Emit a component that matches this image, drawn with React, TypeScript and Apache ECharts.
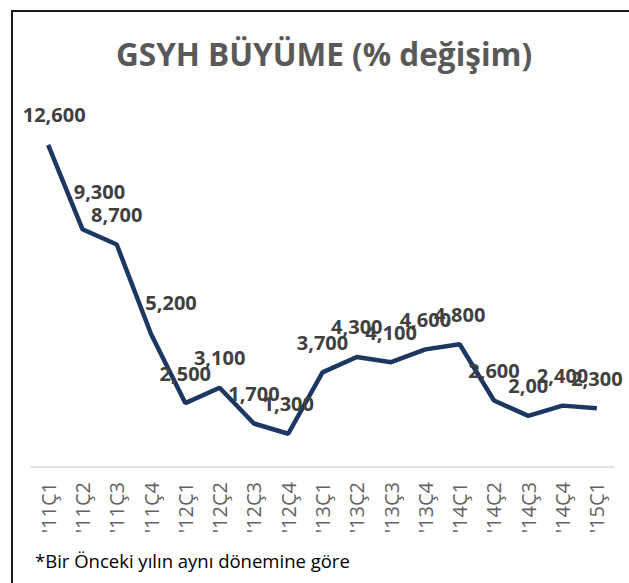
import React, { useEffect, useRef } from "react";
import * as echarts from "echarts";

const categories = ["'11Ç1", "'11Ç2", "'11Ç3", "'11Ç4", "'12Ç1", "'12Ç2", "'12Ç3", "'12Ç4", "'13Ç1", "'13Ç2", "'13Ç3", "'13Ç4", "'14Ç1", "'14Ç2", "'14Ç3", "'14Ç4", "'15Ç1"];
const growth = [12.6, 9.3, 8.7, 5.2, 2.5, 3.1, 1.7, 1.3, 3.7, 4.3, 4.1, 4.6, 4.8, 2.6, 2.0, 2.4, 2.3];
const valueLabels = ["12,600", "9,300", "8,700", "5,200", "2,500", "3,100", "1,700", "1,300", "3,700", "4,300", "4,100", "4,600", "4,800", "2,600", "2,00", "2,400", "2,300"];
const titleText = "GSYH BÜYÜME (% değişim)";
const footnoteText = "*Bir Önceki yılın aynı dönemine göre";

export default function App() {
  const ref = useRef<HTMLDivElement>(null);
  useEffect(() => {
    if (!ref.current) return;
    const chart = echarts.init(ref.current, null, { renderer: "svg" });
    const offsets: Record<number, [number, number]> = {
      0: [6, 0],
      1: [17, -8],
      3: [20, -1],
    };
    const data = growth.map((v, i) => ({
      value: v,
      label: {
        formatter: valueLabels[i],
        offset: offsets[i] || [0, 0],
      },
    }));
    chart.setOption({
      animation: false,
      backgroundColor: "#ffffff",
      title: {
        text: titleText,
        left: 111,
        top: 32,
        textStyle: {
          fontFamily: "Open Sans",
          fontWeight: "bold",
          fontSize: 31.5,
          color: "#595959",
        },
      },
      grid: { left: 31, right: 15, top: 109, bottom: 116, containLabel: false },
      xAxis: {
        type: "category",
        data: categories,
        boundaryGap: true,
        axisLine: { lineStyle: { color: "#d9d9d9", width: 1.5 } },
        axisTick: { show: false },
        axisLabel: {
          rotate: 90,
          interval: 0,
          margin: 15,
          fontFamily: "Open Sans",
          fontSize: 20,
          color: "#636363",
        },
      },
      yAxis: {
        type: "value",
        min: 0,
        max: 14,
        show: false,
        splitLine: { show: false },
      },
      series: [
        {
          type: "line",
          data,
          symbol: "circle",
          symbolSize: 0.1,
          showSymbol: true,
          lineStyle: { color: "#1c3762", width: 4.5 },
          itemStyle: { color: "#1c3762" },
          label: {
            show: true,
            position: "top",
            distance: 20,
            fontFamily: "Open Sans",
            fontWeight: "bold",
            fontSize: 20,
            color: "#404040",
          },
        },
      ],
      graphic: [
        {
          type: "line",
          shape: { x1: 11, y1: 11, x2: 629, y2: 11 },
          style: { stroke: "#1a1a1a", lineWidth: 2 },
        },
        {
          type: "line",
          shape: { x1: 12, y1: 10, x2: 12, y2: 583 },
          style: { stroke: "#1a1a1a", lineWidth: 2 },
        },
        {
          type: "text",
          left: 35,
          top: 551,
          style: {
            text: footnoteText,
            fontFamily: "Open Sans",
            fontSize: 18.5,
            fill: "#000000",
          },
        },
      ],
    });
    return () => chart.dispose();
  }, []);
  return (
    <div
      ref={ref}
      style={{ position: "fixed", left: 0, top: 0, width: 629, height: 583 }}
    />
  );
}
